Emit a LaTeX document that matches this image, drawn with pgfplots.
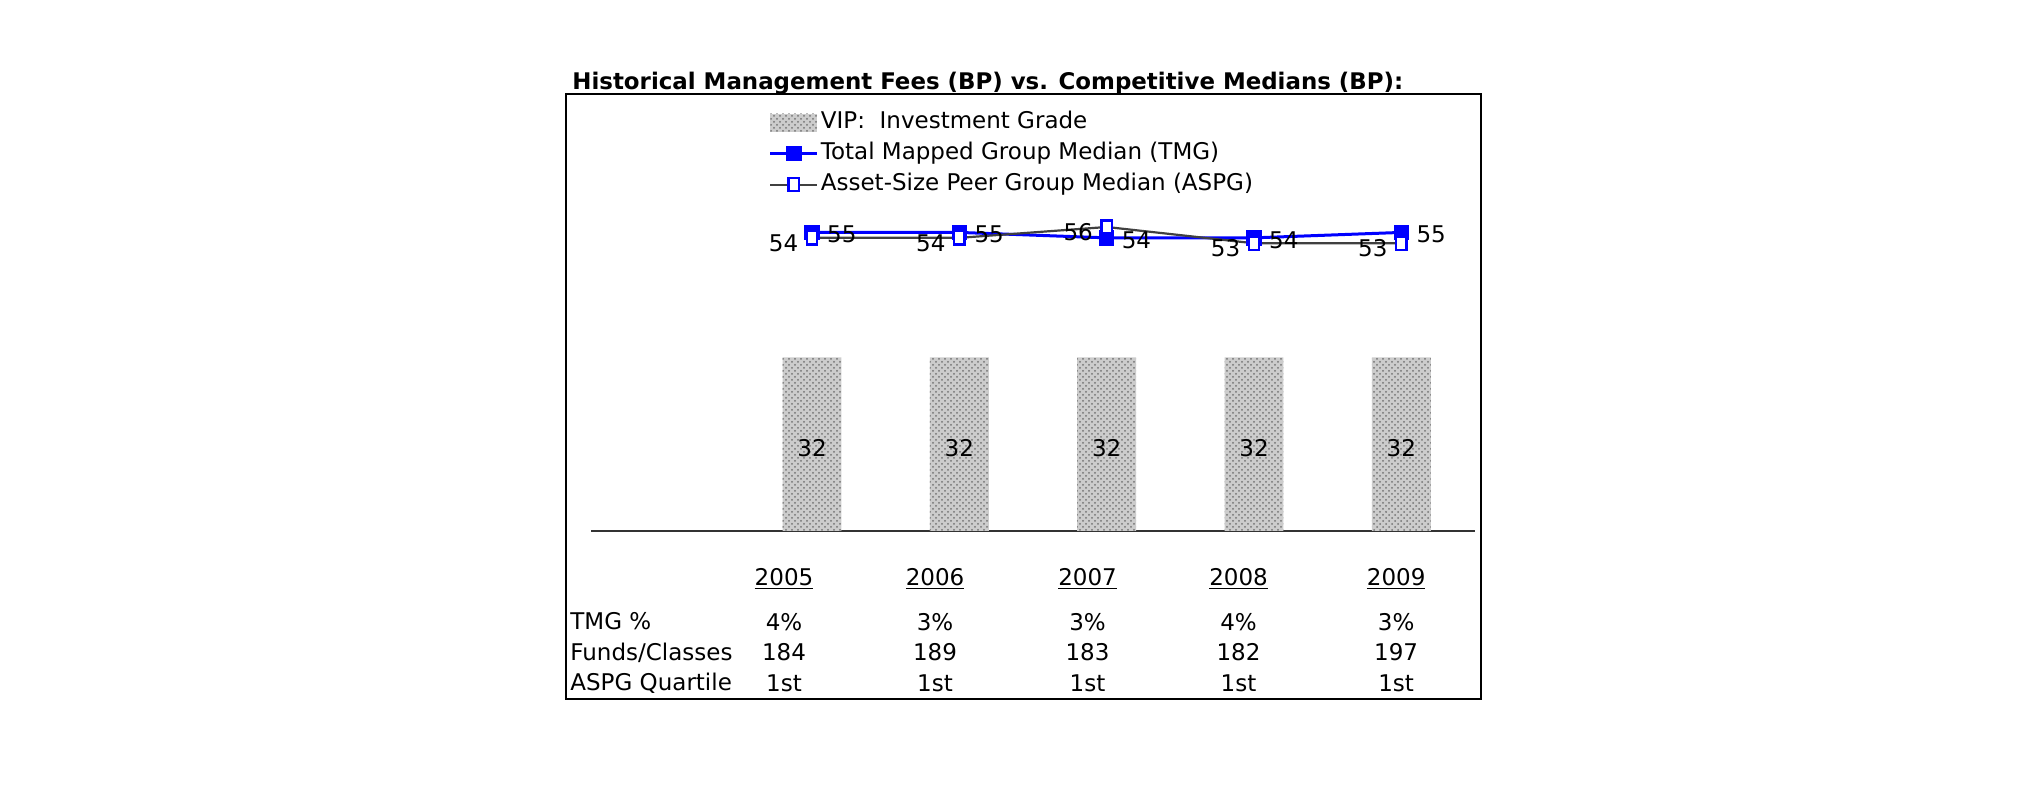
\documentclass[border=0pt]{standalone}
\usepackage{fontspec}
\setmainfont{DejaVu Sans}
\usepackage{pgfplots}
\pgfplotsset{compat=1.18}
\usetikzlibrary{patterns}
\definecolor{tmgblue}{RGB}{0,0,255}
\definecolor{aspggray}{RGB}{64,64,64}
\pgfplotsset{
  barlegend/.style={legend image code/.code={\path[##1] (0pt,-4.5pt) rectangle (23.5pt,4.5pt);}},
  linelegend/.style={legend image code/.code={\draw[mark repeat=2,mark phase=2,##1] plot coordinates {(0pt,0pt) (11.75pt,0pt) (23.5pt,0pt)};}},
}
\begin{document}
\begin{tikzpicture}[font=\fontsize{11.5}{15.2}\selectfont]
\useasboundingbox (0,0) rectangle (1012.5pt,403pt);
\draw[line width=1.4pt] (283pt,356pt) rectangle (740.5pt,53.5pt);
\node[anchor=base west, inner sep=0pt, font=\bfseries\fontsize{11.45}{13}\selectfont] at (286pt,358.2pt) {Historical Management Fees (BP) vs. Competitive Medians (BP):};
\node[anchor=base west, inner sep=0pt] at (285pt,88pt) {TMG \%};
\node[anchor=base west, inner sep=0pt] at (285pt,72.5pt) {Funds/Classes};
\node[anchor=base west, inner sep=0pt] at (285pt,57.75pt) {ASPG Quartile};
\begin{axis}[
  at={(295.5pt,137.5pt)}, anchor=south west,
  scale only axis, width=442pt, height=218.5pt,
  xmin=-1.5, xmax=4.5, ymin=0, ymax=80.5,
  hide y axis,
  axis x line*=bottom,
  x axis line style={-, line width=0.8pt, black!80},
  xtick={-0.19,0.835,1.87,2.895,3.965}, major tick length=0pt,
  xticklabels={
    {\underline{2005}\\[7.5pt]4\%\\184\\1st},
    {\underline{2006}\\[7.5pt]3\%\\189\\1st},
    {\underline{2007}\\[7.5pt]3\%\\183\\1st},
    {\underline{2008}\\[7.5pt]4\%\\182\\1st},
    {\underline{2009}\\[7.5pt]3\%\\197\\1st}},
  xticklabel style={align=center, yshift=-15pt, font=\fontsize{11.5}{15.2}\selectfont},
  clip=false,
  /pgf/number format/assume math mode=true,
  legend style={at={(0.194,0.972)}, anchor=north west, draw=none, fill=none,
    font=\fontsize{11.5}{13}\selectfont, row sep=3.5pt,
    nodes={inner sep=1pt, text height=8pt, text depth=2pt}},
  legend cell align=left,
  nodes near coords style={font=\fontsize{11.5}{13}\selectfont, text=black},
]
\addplot[ybar, bar width=0.4, draw=none, fill=black!20,
  postaction={pattern=crosshatch dots, pattern color=black!55},
  nodes near coords,
  every node near coord/.append style={anchor=center, yshift=-45.2pt},
  barlegend]
  coordinates {(0,32) (1,32) (2,32) (3,32) (4,32)};
\addlegendentry{VIP:\ \ Investment Grade}
\addplot[tmgblue, line width=1.5pt, mark=square*, mark size=3.6pt,
  mark options={fill=tmgblue, draw=tmgblue, line width=0.5pt},
  nodes near coords,
  every node near coord/.append style={anchor=west, xshift=4pt, yshift=-1pt},
  linelegend]
  coordinates {(0,55) (1,55) (2,54) (3,54) (4,55)};
\addlegendentry{Total Mapped Group Median (TMG)}
\addplot[aspggray, line width=1.1pt, mark=square*, mark size=3.3pt,
  mark options={fill=white, draw=tmgblue, line width=1.2pt, xscale=0.8},
  nodes near coords,
  every node near coord/.append style={anchor=east, xshift=-3pt, yshift=-2.5pt},
  linelegend]
  coordinates {(0,54) (1,54) (2,56) (3,53) (4,53)};
\addlegendentry{Asset-Size Peer Group Median (ASPG)}
\end{axis}
\end{tikzpicture}
\end{document}
